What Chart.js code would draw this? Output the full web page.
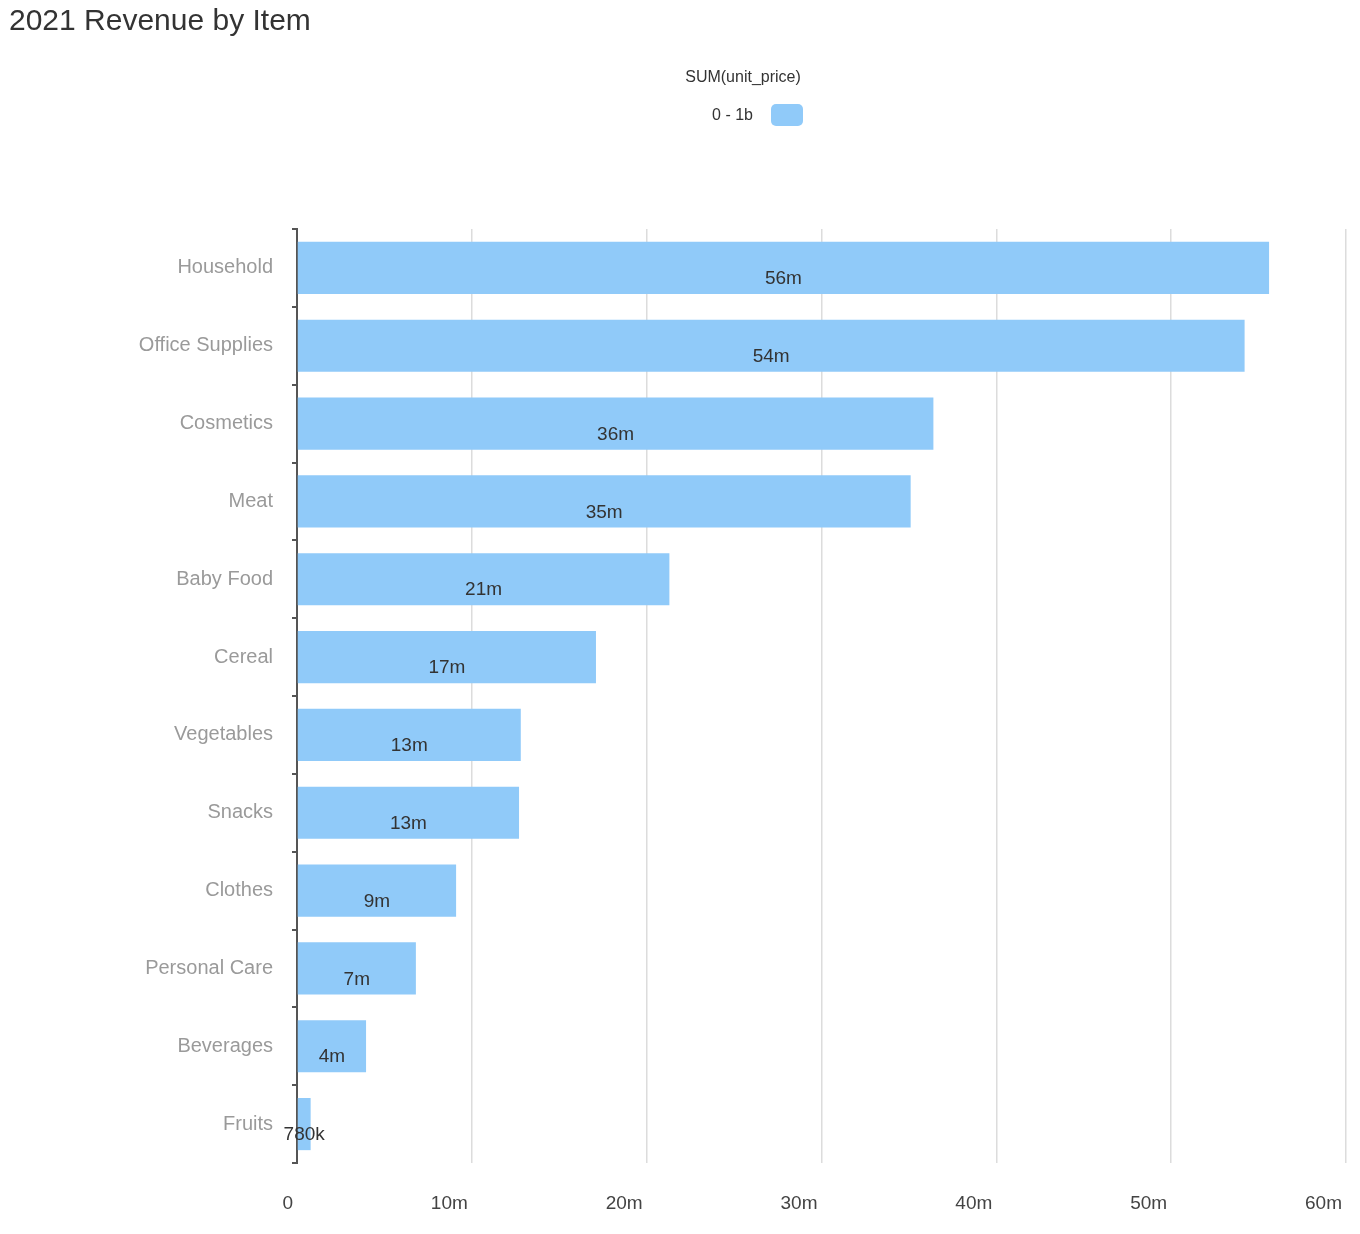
<!DOCTYPE html>
<html>
<head>
<meta charset="utf-8">
<script src="https://cdn.jsdelivr.net/npm/chart.js@4/dist/chart.umd.min.js"></script>
<style>
  body { margin: 0; background: #fff; font-family: "Liberation Sans", Arial, sans-serif; }
  #wrap { position: relative; width: 1360px; height: 1234px; }
  #title { position: absolute; left: 9px; top: 3px; font-size: 30px; color: #333; }
  #legTitle { position: absolute; left: 643px; width: 200px; top: 68px; text-align: center; font-size: 16px; color: #333; }
  #legItem { position: absolute; left: 600px; width: 153px; top: 106px; text-align: right; font-size: 16px; color: #333; }
  #legBox { position: absolute; left: 771px; top: 104px; width: 32px; height: 22px; border-radius: 5px; background: #90caf9; }
  canvas { position: absolute; left: 0; top: 0; }
</style>
</head>
<body>
<div id="wrap">
  <canvas id="barChart" width="1360" height="1234"></canvas>
  <div id="title">2021 Revenue by Item</div>
  <div id="legTitle">SUM(unit_price)</div>
  <div id="legItem">0 - 1b</div>
  <div id="legBox"></div>
</div>
<script>
// Data
const categories = ["Household", "Office Supplies", "Cosmetics", "Meat", "Baby Food", "Cereal",
    "Vegetables", "Snacks", "Clothes", "Personal Care", "Beverages", "Fruits"];
const revenue = [55600000, 54200000, 36400000, 35100000, 21300000, 17100000,
    12800000, 12700000, 9100000, 6800000, 3950000, 780000];
const tickValues = [0, 10000000, 20000000, 30000000, 40000000, 50000000, 60000000];
const seriesLabel = "0 - 1b";

function shortNum(v) {
    if (v === 0) return "0";
    if (v >= 1000000) return Math.round(v / 1000000) + "m";
    return Math.round(v / 1000) + "k";
}

// bar value labels
const valueLabels = {
    id: "valueLabels",
    afterDatasetsDraw(chart) {
        const ctx = chart.ctx;
        const meta = chart.getDatasetMeta(0);
        ctx.save();
        ctx.font = "19px 'Liberation Sans', Arial, sans-serif";
        ctx.fillStyle = "#333";
        ctx.textAlign = "center";
        ctx.textBaseline = "middle";
        meta.data.forEach((bar, i) => {
            const x = bar.base + (bar.x - bar.base) / 2;
            ctx.fillText(shortNum(revenue[i]), x, bar.y + 11);
        });
        ctx.restore();
    }
};

new Chart(document.getElementById("barChart"), {
    type: "bar",
    data: {
        labels: categories,
        datasets: [{
            label: seriesLabel,
            data: revenue,
            backgroundColor: "#90caf9",
            barPercentage: 0.67,
            categoryPercentage: 1
        }]
    },
    options: {
        indexAxis: "y",
        responsive: false,
        animation: false,
        layout: { padding: { top: 229, right: 14, left: 0, bottom: 0 } },
        plugins: {
            legend: { display: false },
            tooltip: { enabled: false }
        },
        scales: {
            x: {
                min: 0,
                max: 60000000,
                afterBuildTicks: (scale) => { scale.ticks = tickValues.map(v => ({ value: v })); },
                afterFit: (scale) => {
                    scale.height = 71;
                    scale.paddingLeft = 0;
                    scale.paddingRight = 0;
                },
                border: { display: false },
                grid: { color: "#dcdcdc", lineWidth: 1.5, drawTicks: false },
                ticks: {
                    align: "end",
                    labelOffset: -4,
                    padding: 29,
                    color: "#444",
                    font: { family: "'Liberation Sans', Arial, sans-serif", size: 19 },
                    callback: (v) => shortNum(v)
                }
            },
            y: {
                afterFit: (scale) => { scale.width = 297; },
                border: { display: true, color: "#555", width: 2 },
                grid: { drawOnChartArea: false, drawTicks: true, tickLength: 5, color: "#555", lineWidth: 2 },
                ticks: {
                    padding: 19,
                    color: "#9a9a9a",
                    font: { family: "'Liberation Sans', Arial, sans-serif", size: 20 }
                }
            }
        }
    },
    plugins: [valueLabels]
});
</script>
</body>
</html>
